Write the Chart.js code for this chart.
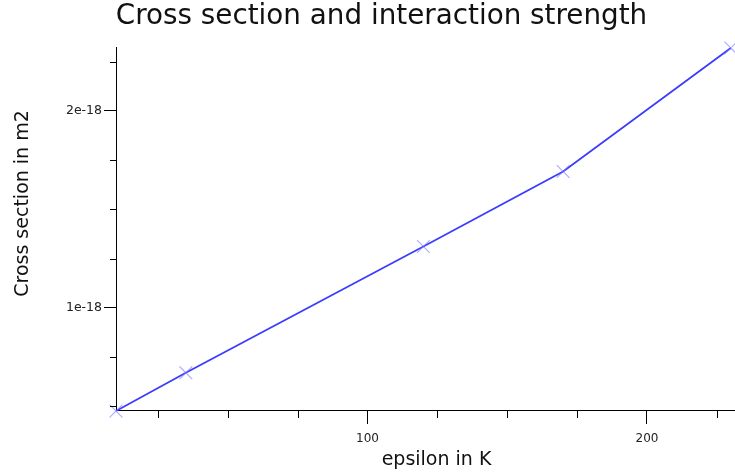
<!DOCTYPE html>
<html>
<head>
<meta charset="utf-8">
<script src="https://cdn.jsdelivr.net/npm/chart.js@4/dist/chart.umd.min.js"></script>
<style>
  html, body { margin: 0; padding: 0; overflow: hidden; background: #fff; }
  #wrap { width: 735px; height: 476px; }
</style>
</head>
<body>
<div id="wrap"><canvas id="crossChart"></canvas></div>
<script>
const epsilon = [10, 35, 120, 170, 230];
// cross section in units of 1e-18 m2
const crossSection = [0.475, 0.669, 1.311, 1.692, 2.32];
const xTickLabels = [100, 200];
const yTickLabels = [1, 2];
const xTitle = "epsilon in K";
const yTitle = "Cross section in m2";

// short ticks for the unlabelled steps
const minorTicks = {
  id: "minorTicks",
  afterDraw(chart) {
    const { ctx, chartArea, scales } = chart;
    ctx.save();
    ctx.strokeStyle = "#000";
    ctx.lineWidth = 1;
    ctx.beginPath();
    scales.x.ticks.forEach((t) => {
      if (xTickLabels.includes(t.value)) return;
      const px = Math.round(scales.x.getPixelForValue(t.value)) + 0.5;
      ctx.moveTo(px, chartArea.bottom);
      ctx.lineTo(px, chartArea.bottom + 7);
    });
    scales.y.ticks.forEach((t) => {
      if (yTickLabels.includes(t.value)) return;
      const py = Math.round(scales.y.getPixelForValue(t.value)) + 0.5;
      ctx.moveTo(chartArea.left, py);
      ctx.lineTo(chartArea.left - 6, py);
    });
    ctx.stroke();
    ctx.restore();
  },
};

// axis titles, placed a little off-centre like the original figure
const axisTitles = {
  id: "axisTitles",
  afterDraw(chart) {
    const { ctx, chartArea } = chart;
    const midX = (chartArea.left + chartArea.right) / 2;
    const midY = (chartArea.top + chartArea.bottom) / 2;
    ctx.save();
    ctx.fillStyle = "#111";
    ctx.font = '19px "DejaVu Sans"';
    ctx.textAlign = "center";
    ctx.textBaseline = "middle";
    ctx.fillText(xTitle, midX + 11, chart.height - 15.5);
    ctx.translate(23.5, midY - 26);
    ctx.rotate(-Math.PI / 2);
    ctx.fillText(yTitle, 0, 0);
    ctx.restore();
  },
};

const crossChart = document.getElementById("crossChart");

new Chart(crossChart, {
  type: "line",
  data: {
    datasets: [
      {
        label: "Cross section",
        data: epsilon.map((x, i) => ({ x: x, y: crossSection[i] })),
        borderColor: "rgb(60, 60, 255)",
        borderWidth: 1.8,
        tension: 0,
        fill: false,
        clip: false,
        pointStyle: "crossRot",
        pointRadius: 9,
        pointBorderWidth: 1.2,
        pointBorderColor: "rgba(120, 120, 255, 0.6)",
        pointBackgroundColor: "rgba(0, 0, 0, 0)",
      },
    ],
  },
  options: {
    responsive: true,
    maintainAspectRatio: false,
    animation: false,
    // left padding moves the title centre right, as in the original
    layout: { autoPadding: false, padding: { left: 28, right: 0, top: 0, bottom: 0 } },
    plugins: {
      legend: { display: false },
      tooltip: { enabled: false },
      title: {
        display: true,
        text: "Cross section and interaction strength",
        color: "#111",
        font: { family: "DejaVu Sans", size: 27.8, weight: "normal" },
        padding: { top: 0, bottom: 14.6 },
      },
    },
    scales: {
      x: {
        type: "linear",
        min: 10,
        max: 231.5,
        afterFit: (scale) => {
          scale.height = 65;
          scale.paddingLeft = 0;
          scale.paddingRight = 0;
        },
        border: { display: true, color: "#000", width: 1 },
        grid: {
          drawOnChartArea: false,
          drawTicks: true,
          tickLength: 13,
          tickColor: (c) => (xTickLabels.includes(c.tick && c.tick.value) ? "#000" : "rgba(0,0,0,0)"),
        },
        ticks: {
          stepSize: 25,
          includeBounds: false,
          autoSkip: false,
          maxRotation: 0,
          padding: 8,
          color: "#222",
          font: { family: "DejaVu Sans", size: 12 },
          callback: (v) => (xTickLabels.includes(v) ? String(v) : ""),
        },
      },
      y: {
        type: "linear",
        min: 0.475,
        max: 2.32,
        afterFit: (scale) => { scale.width = 88; },
        border: { display: true, color: "#000", width: 1 },
        grid: {
          drawOnChartArea: false,
          drawTicks: true,
          tickLength: 12,
          tickColor: (c) => (yTickLabels.includes(c.tick && c.tick.value) ? "#000" : "rgba(0,0,0,0)"),
        },
        ticks: {
          stepSize: 0.25,
          includeBounds: false,
          autoSkip: false,
          padding: 2,
          color: "#222",
          font: { family: "DejaVu Sans", size: 12.5 },
          callback: (v) => (yTickLabels.includes(v) ? v + "e-18" : ""),
        },
      },
    },
  },
  plugins: [minorTicks, axisTitles],
});
</script>
</body>
</html>
